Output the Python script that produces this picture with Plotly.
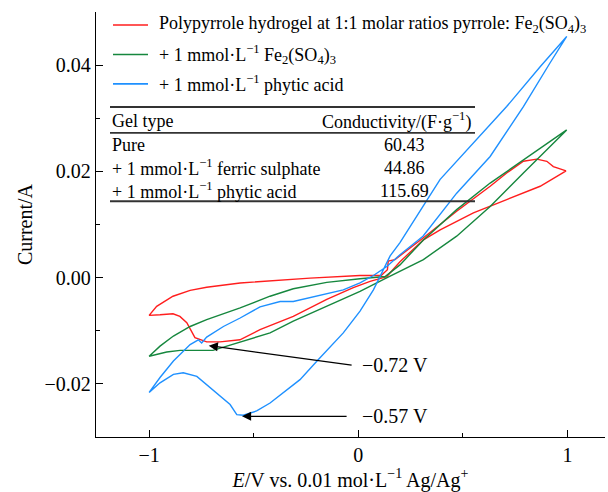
import plotly.graph_objects as go

FONT = "Liberation Serif"

# ---- data (E in V, current in A) ----
red_x = [0.993, 0.869, 0.709, 0.550, 0.391, 0.311, 0.199, 0.136, 0.056, -0.024, -0.151, -0.311, -0.470,
         -0.566, -0.661, -0.725, -0.781, -0.804, -0.820, -0.853, -0.886, -0.948, -1.0, -0.964, -0.886,
         -0.804, -0.725, -0.565, -0.422, -0.231, 0.008, 0.109, 0.139, 0.143, 0.175, 0.311, 0.470, 0.630,
         0.709, 0.789, 0.853, 0.901, 0.932, 0.993]
red_y = [0.0201, 0.0172, 0.0147, 0.0122, 0.0090, 0.0071, 0.0030, 0.0002, -0.0007, -0.0019, -0.0041, -0.0073,
         -0.0098, -0.0117, -0.0121, -0.0121, -0.0113, -0.0098, -0.0085, -0.0073, -0.0068, -0.0070, -0.0071,
         -0.0054, -0.0035, -0.0024, -0.0018, -0.0010, -0.0006, -0.0001, 0.0004, 0.0004, 0.0015, 0.0031,
         0.0034, 0.0075, 0.0125, 0.0172, 0.0197, 0.0219, 0.0223, 0.0219, 0.0209, 0.0201]

green_x = [0.996, 0.789, 0.630, 0.470, 0.311, 0.199, 0.128, 0.008, -0.151, -0.311, -0.422, -0.565, -0.725,
           -0.804, -0.884, -0.948, -1.0, -0.916, -0.852, -0.695, -0.629, -0.422, -0.311, -0.151, 0.008,
           0.128, 0.311, 0.470, 0.630, 0.789, 0.996]
green_y = [0.0278, 0.0222, 0.0178, 0.0128, 0.0071, 0.0024, 0.0002, -0.0002, -0.0009, -0.0021, -0.0035,
           -0.0057, -0.0079, -0.0092, -0.0110, -0.0129, -0.0148, -0.0140, -0.0137, -0.0137, -0.0129,
           -0.0104, -0.0082, -0.0054, -0.0026, -0.0002, 0.0034, 0.0078, 0.0134, 0.0197, 0.0278]

blue_x = [0.996, 0.869, 0.709, 0.550, 0.391, 0.309, 0.199, 0.152, 0.120, 0.072, 0.008, -0.072, -0.191, -0.279,
          -0.422, -0.486, -0.550, -0.581, -0.613, -0.661, -0.725, -0.772, -0.837, -0.884, -0.948, -1.0,
          -0.948, -0.884, -0.804, -0.765, -0.749, -0.725, -0.645, -0.565, -0.470, -0.374, -0.311, -0.231,
          -0.072, 0.008, 0.072, 0.136, 0.199, 0.309, 0.470, 0.630, 0.789, 0.916, 0.996]
blue_y = [0.0454, 0.0397, 0.0322, 0.0253, 0.0185, 0.0134, 0.0066, 0.0041, 0.0015, -0.0023, -0.0063, -0.0104,
          -0.0154, -0.0192, -0.0236, -0.0251, -0.0259, -0.0258, -0.0239, -0.0223, -0.0201, -0.0186,
          -0.0179, -0.0182, -0.0198, -0.0216, -0.0188, -0.0157, -0.0126, -0.0117, -0.0123, -0.0112,
          -0.0092, -0.0076, -0.0055, -0.0045, -0.0045, -0.0038, -0.0023, -0.0010, 0.0004, 0.0021, 0.0043,
          0.0078, 0.0159, 0.0228, 0.0322, 0.0404, 0.0454]

series_names = [
    "Polypyrrole hydrogel at 1:1 molar ratios pyrrole: Fe<sub>2</sub>(SO<sub>4</sub>)<sub>3</sub>",
    "+ 1 mmol·L<sup>−1</sup> Fe<sub>2</sub>(SO<sub>4</sub>)<sub>3</sub>",
    "+ 1 mmol·L<sup>−1</sup> phytic acid",
]
series_colors = ["#FF1E1E", "#16873E", "#1E90FF"]

table_header = ["Gel type", "Conductivity/(F·g<sup>−1</sup>)"]
gel_types = ["Pure", "+ 1 mmol·L<sup>−1</sup> ferric sulphate", "+ 1 mmol·L<sup>−1</sup> phytic acid"]
conductivity = ["60.43", "44.86", "115.69"]

peak_labels = ["−0.72 V", "−0.57 V"]
peak_x = [-0.715, -0.556]
peak_y = [-0.0128, -0.0261]
arrow_tail_x = [-0.025, -0.049]
arrow_tail_y = [-0.0165, -0.0261]
label_x = [0.008, 0.008]

fig = go.Figure()
for xs, ys, name, col in zip([red_x, green_x, blue_x], [red_y, green_y, blue_y], series_names, series_colors):
    fig.add_trace(go.Scatter(x=xs, y=ys, mode="lines", name=name, showlegend=False,
                             line=dict(color=col, width=1.4)))

# plot-area geometry helpers (pixels -> paper)
L, R, T, B = 96, 605, 12, 437.5
def xp(px):
    return (px - L) / (R - L)
def yp(py):
    return (B - py) / (B - T)

shapes = []
annotations = []

# manual legend
leg_rows = [25, 54.5, 84]
for name, col, ry in zip(series_names, series_colors, leg_rows):
    shapes.append(dict(type="line", xref="paper", yref="paper", x0=xp(113), x1=xp(148), y0=yp(ry), y1=yp(ry),
                       line=dict(color=col, width=1.6)))
    annotations.append(dict(xref="paper", yref="paper", x=xp(157), y=yp(ry), text=name, showarrow=False,
                            xanchor="left", yanchor="middle", font=dict(family=FONT, size=18, color="black")))

# table
for ly, w in [(107, 2), (133, 1.6), (201.5, 2)]:
    shapes.append(dict(type="line", xref="paper", yref="paper", x0=xp(110), x1=xp(475), y0=yp(ly), y1=yp(ly),
                       line=dict(color="#333333", width=w)))
annotations.append(dict(xref="paper", yref="paper", x=xp(110), y=yp(121), text=table_header[0], showarrow=False,
                        xanchor="left", yanchor="middle", font=dict(family=FONT, size=18, color="black")))
annotations.append(dict(xref="paper", yref="paper", x=xp(473), y=yp(121), text=table_header[1], showarrow=False,
                        xanchor="right", yanchor="middle", font=dict(family=FONT, size=18, color="black")))
for g, c, ry in zip(gel_types, conductivity, [145, 168, 191]):
    annotations.append(dict(xref="paper", yref="paper", x=xp(110), y=yp(ry), text=g, showarrow=False,
                            xanchor="left", yanchor="middle", font=dict(family=FONT, size=18, color="black")))
    annotations.append(dict(xref="paper", yref="paper", x=xp(404), y=yp(ry), text=c, showarrow=False,
                            xanchor="center", yanchor="middle", font=dict(family=FONT, size=18, color="black")))

# peak arrows and labels
for lab, hx, hy, tx, ty, lx in zip(peak_labels, peak_x, peak_y, arrow_tail_x, arrow_tail_y, label_x):
    annotations.append(dict(x=hx, y=hy, ax=tx, ay=ty, xref="x", yref="y", axref="x", ayref="y",
                            text="", showarrow=True, arrowhead=2, arrowsize=1.4, arrowwidth=1.3,
                            arrowcolor="black"))
    annotations.append(dict(x=lx, y=ty, xref="x", yref="y", text=lab, showarrow=False, xanchor="left",
                            yanchor="middle", font=dict(family=FONT, size=20, color="black")))

axis_common = dict(showline=True, linecolor="black", linewidth=1.3, ticks="inside", ticklen=7, tickwidth=1.3,
                   tickcolor="black", showgrid=False, zeroline=False, automargin=False,
                   tickfont=dict(family=FONT, size=20, color="black"))

fig.update_layout(
    width=608, height=492,
    margin=dict(l=L, r=608 - R, t=T, b=492 - B),
    paper_bgcolor="white", plot_bgcolor="white",
    xaxis=dict(range=[-1.254, 1.179], dtick=1, tick0=0,
               minor=dict(dtick=0.5, ticks="inside", ticklen=4, tickwidth=1.3, tickcolor="black"),
               title=dict(text="<i>E</i>/V vs. 0.01 mol·L<sup>−1</sup> Ag/Ag<sup>+</sup>",
                          font=dict(family=FONT, size=20, color="black"), standoff=6),
               **axis_common),
    yaxis=dict(range=[-0.03, 0.05], dtick=0.02, tick0=0, tickformat=".2f",
               minor=dict(dtick=0.01, ticks="inside", ticklen=4, tickwidth=1.3, tickcolor="black"),
               title=dict(text="Current/A", font=dict(family=FONT, size=20, color="black"), standoff=6),
               **axis_common),
    shapes=shapes,
    annotations=annotations,
)

fig.write_html("out.html")
